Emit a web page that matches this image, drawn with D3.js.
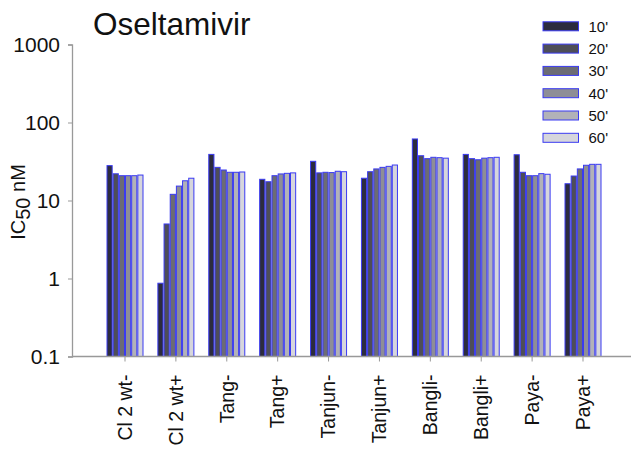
<!DOCTYPE html>
<html><head><meta charset="utf-8">
<script src="https://cdn.jsdelivr.net/npm/d3@7"></script>
<style>body{margin:0;background:#fff}svg{display:block;font-family:Arial,"Liberation Sans",sans-serif}</style>
</head><body><svg id="c" width="631" height="450"></svg>
<script>
const categories = ["Cl 2 wt-","Cl 2 wt+","Tang-","Tang+","Tanjun-","Tanjun+","Bangli-","Bangli+","Paya-","Paya+"];
const seriesNames = ["10'","20'","30'","40'","50'","60'"];
const s10 = [28, 0.87, 39, 18.7, 31.8, 19.3, 61.5, 39, 38.6, 16.4];
const s20 = [22, 5.0, 26.6, 17.4, 22.6, 23.4, 37.5, 34.4, 23.0, 20.6];
const s30 = [20.8, 12.0, 24.6, 20.8, 23.0, 25.4, 34.4, 33.3, 20.8, 25.4];
const s40 = [20.8, 15.3, 23.0, 21.9, 22.8, 26.6, 35.8, 34.9, 20.8, 28.3];
const s50 = [20.8, 17.9, 23.0, 22.3, 23.7, 27.4, 35.4, 35.4, 22.1, 29.1];
const s60 = [21.2, 19.3, 23.2, 22.6, 23.4, 28.5, 34.9, 35.8, 21.7, 29.1];
const yTicks = [0.1, 1, 10, 100, 1000];
const fills = ["#2c2c3e","#4e4e58","#6c6c74","#8e8e96","#b2b2b8","#d6d6dc"];
const series = [s10,s20,s30,s40,s50,s60];

const svg = d3.select("#c");
const y = d3.scaleLog().domain([0.1,1000]).range([356.5,44.5]);
const x = d3.scalePoint().domain(categories).range([125,583]);
const xs = d3.scaleBand().domain(seriesNames).range([-18.5,18.5]).padding(0);

// bars
categories.forEach((c,i)=>{
  const g = svg.append("g").attr("transform",`translate(${x(c)},0)`);
  series.forEach((s,k)=>{
    g.append("rect")
      .attr("x", xs(seriesNames[k])+0.5)
      .attr("width", xs.bandwidth()-1)
      .attr("y", y(s[i]))
      .attr("height", y(0.1)-y(s[i]))
      .attr("fill", fills[k])
      .attr("stroke","#3a3af2").attr("stroke-width",1);
  });
});

// y axis
const ya = svg.append("g").attr("transform","translate(72,0)")
  .call(d3.axisLeft(y).tickValues(yTicks).tickFormat(d=>String(d)).tickSize(4).tickPadding(8));
ya.select(".domain").attr("stroke","#999").attr("stroke-width",1.3);
ya.selectAll(".tick line").attr("stroke","#999");
ya.selectAll(".tick text").attr("font-size",21).attr("fill","#111").attr("font-family","Arial");

// x axis
const xa = svg.append("g").attr("transform","translate(0,356.5)");
xa.append("line").attr("x1",72).attr("x2",631).attr("stroke","#999").attr("stroke-width",1.3);
const xt = xa.selectAll("g").data(categories).join("g").attr("transform",d=>`translate(${x(d)},0)`);
xt.append("line").attr("y2",5).attr("stroke","#999");
xt.append("text").attr("transform","rotate(-90)").attr("x",-18).attr("y",0).attr("dy","0.35em")
  .attr("text-anchor","end").attr("font-size",19.5).attr("fill","#111").text(d=>d);

// y label
const yl = svg.append("text").attr("transform","translate(25,202) rotate(-90)")
  .attr("text-anchor","middle").attr("font-size",20).attr("fill","#111");
yl.append("tspan").text("IC");
yl.append("tspan").attr("font-size",20).attr("dy",5).text("50");
yl.append("tspan").attr("dy",-5).text(" nM");

// title
svg.append("text").attr("x",93).attr("y",35).attr("font-size",31.5).attr("fill","#111").text("Oseltamivir");

// legend
const lg = svg.append("g");
seriesNames.forEach((n,k)=>{
  const cy = 26.3 + k*22.3;
  lg.append("rect").attr("x",543).attr("y",cy-4.5).attr("width",35.5).attr("height",9)
    .attr("fill",fills[k]).attr("stroke","#3a3af2").attr("stroke-width",1);
  lg.append("text").attr("x",588.5).attr("y",cy).attr("dy","0.36em").attr("font-size",15).attr("fill","#111").text(n);
});
</script></body></html>
